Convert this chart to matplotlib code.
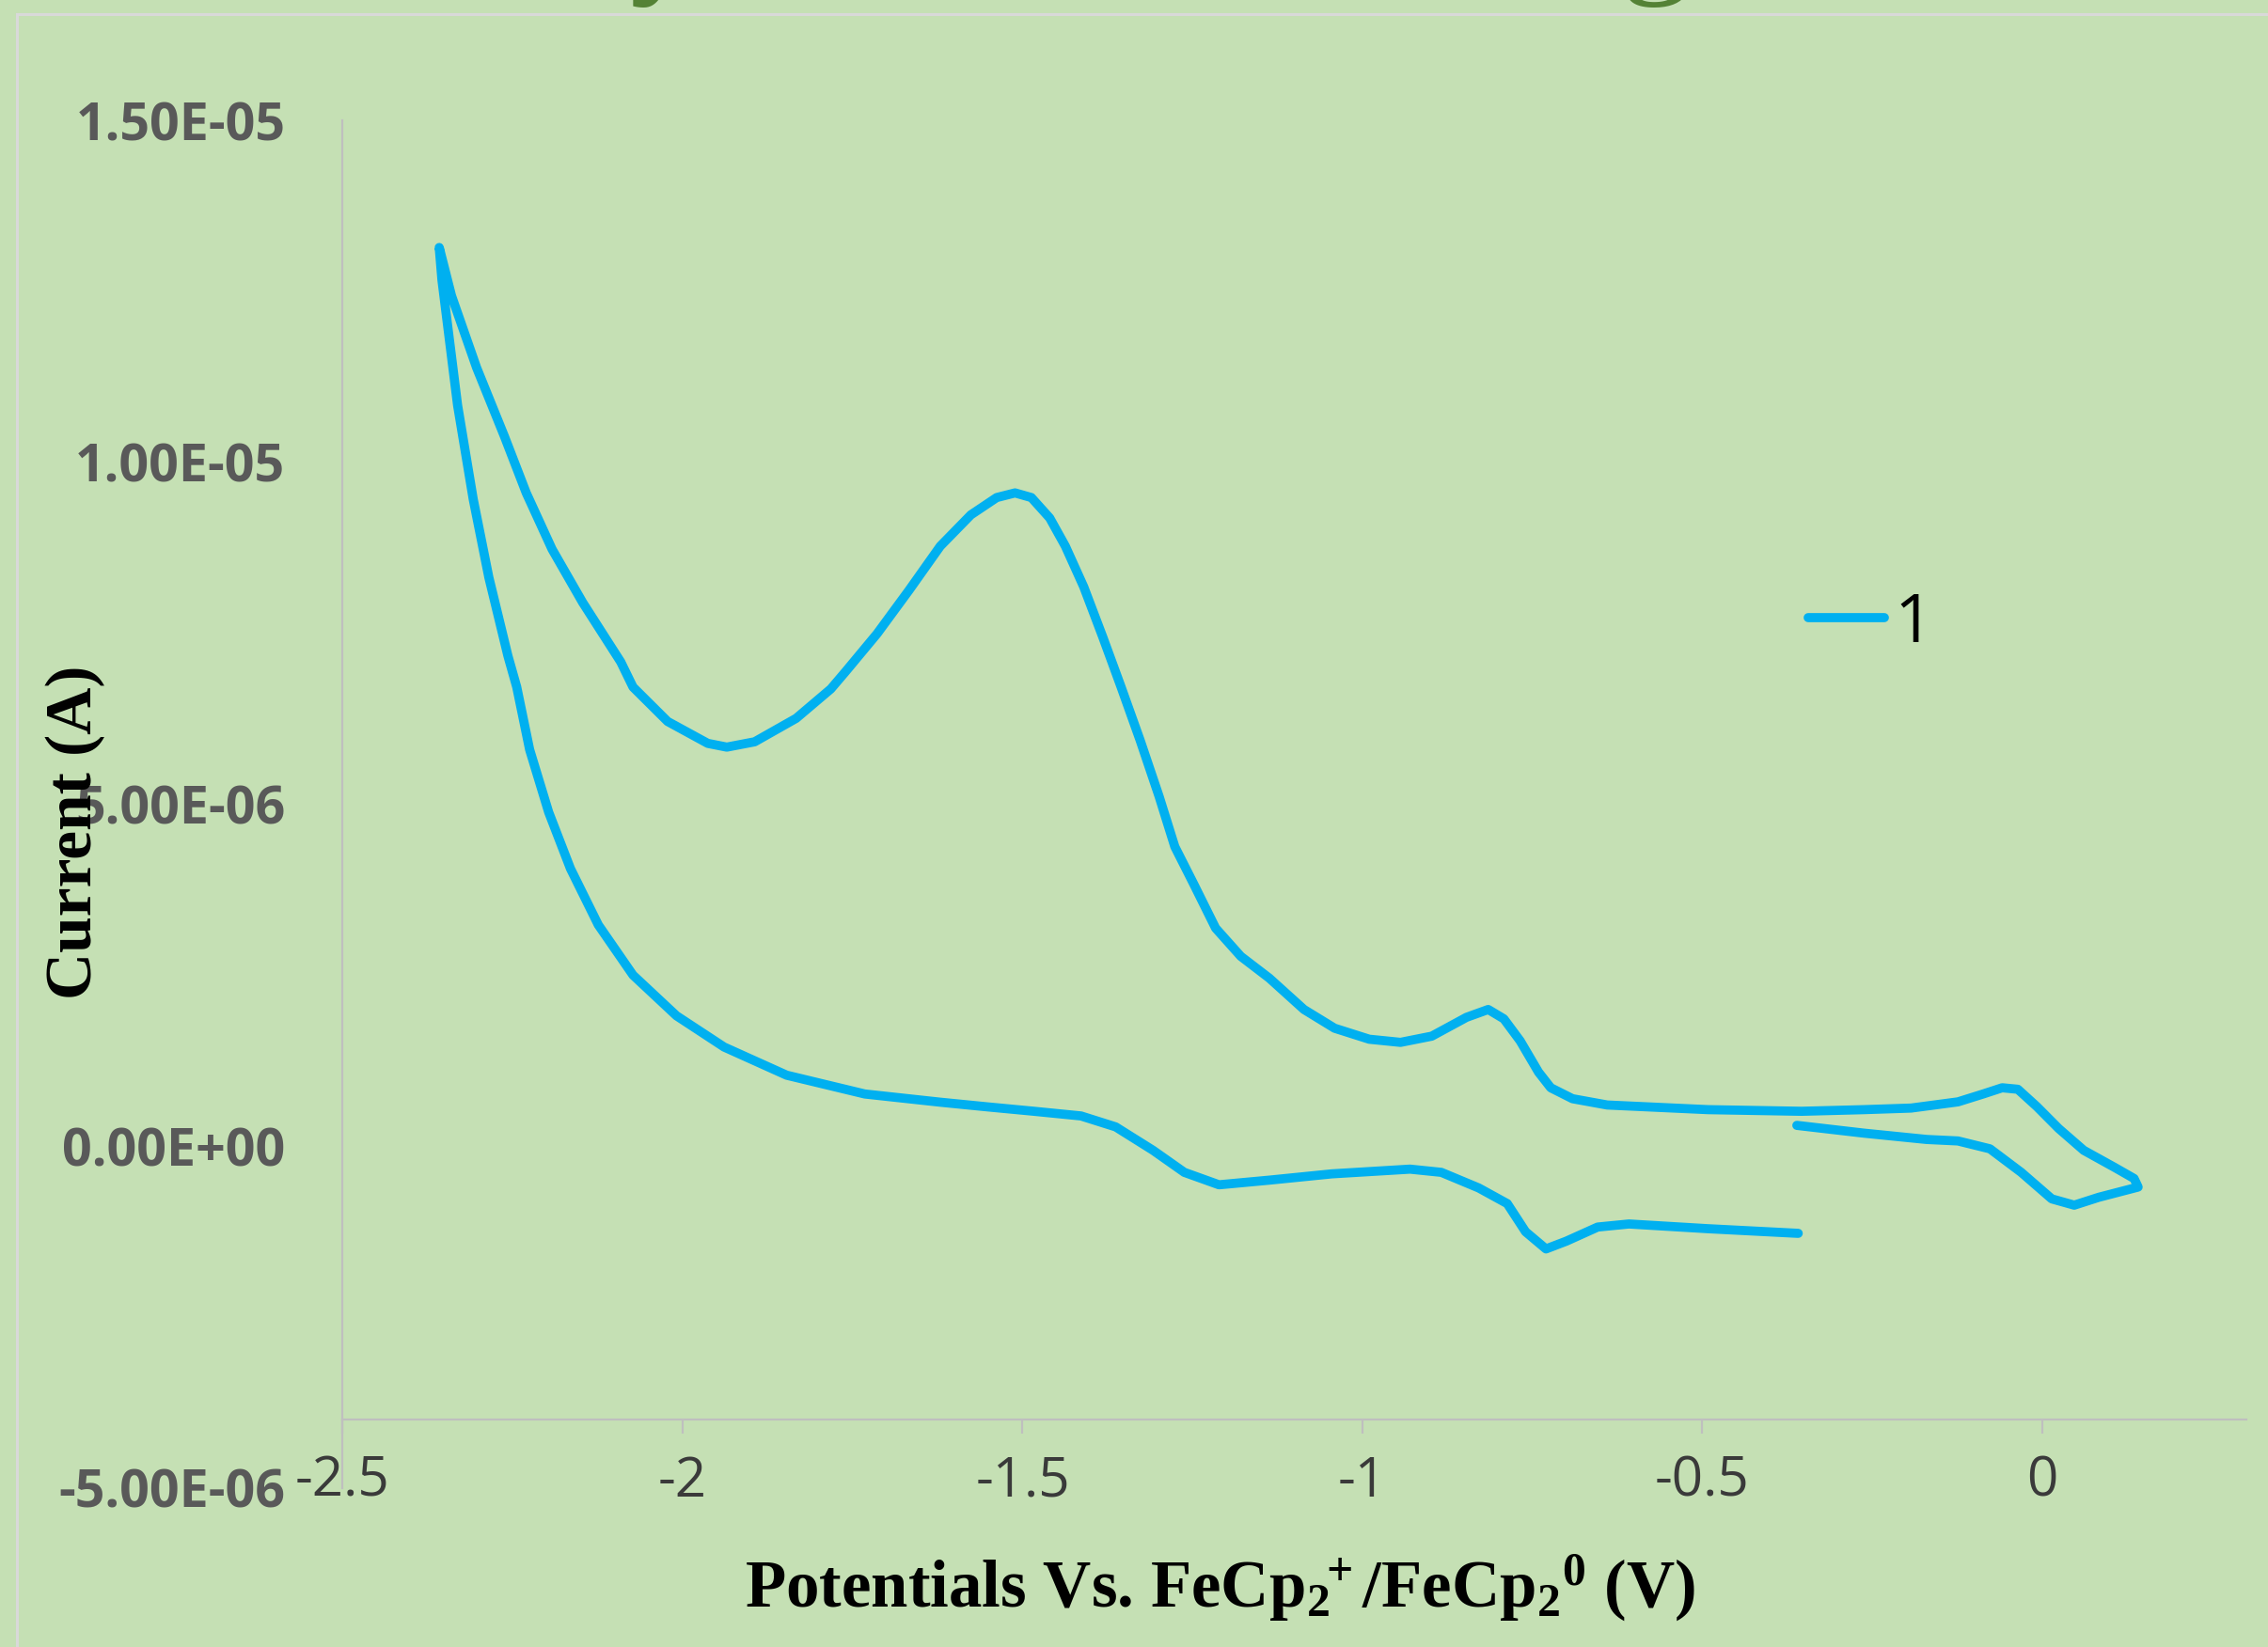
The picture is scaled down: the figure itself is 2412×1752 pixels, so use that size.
import numpy as np
import matplotlib.pyplot as plt
from matplotlib.lines import Line2D

# cyclic voltammogram
# potential in V vs FeCp2+/FeCp2 0, current in microamps
potential = [-0.361, -0.262, -0.170, -0.124, -0.077, -0.031, 0.014, 0.047, 0.083, 0.141,
             0.135, 0.107, 0.061, 0.024, -0.008, -0.036, -0.059, -0.087, -0.124, -0.193,
             -0.262, -0.354, -0.492, -0.640, -0.691, -0.723, -0.741, -0.768, -0.792, -0.815,
             -0.847, -0.898, -0.944, -0.990, -1.041, -1.086, -1.137, -1.179, -1.216, -1.248,
             -1.276, -1.299, -1.327, -1.355, -1.382, -1.410, -1.437, -1.460, -1.487, -1.511,
             -1.538, -1.576, -1.621, -1.667, -1.714, -1.760, -1.782, -1.833, -1.894, -1.935,
             -1.963, -2.022, -2.073, -2.091, -2.147, -2.192, -2.230, -2.262, -2.303, -2.340,
             -2.358, -2.354, -2.331, -2.308, -2.285, -2.257, -2.244, -2.225, -2.197, -2.165,
             -2.124, -2.073, -2.009, -1.939, -1.847, -1.732, -1.621, -1.552, -1.483, -1.414,
             -1.363, -1.308, -1.262, -1.211, -1.137, -1.045, -0.930, -0.884, -0.829, -0.787,
             -0.760, -0.730, -0.700, -0.654, -0.608, -0.492, -0.359]
current_uA = [0.302, 0.188, 0.096, 0.074, -0.041, -0.385, -0.773, -0.865, -0.750, -0.600,
              -0.475, -0.316, -0.063, 0.257, 0.577, 0.830, 0.852, 0.761, 0.646, 0.555,
              0.532, 0.508, 0.532, 0.600, 0.692, 0.852, 1.081, 1.538, 1.860, 1.997,
              1.882, 1.607, 1.516, 1.562, 1.723, 1.997, 2.455, 2.775, 3.187, 3.828,
              4.378, 5.110, 5.934, 6.713, 7.445, 8.179, 8.773, 9.185, 9.484, 9.552,
              9.484, 9.231, 8.773, 8.128, 7.492, 6.942, 6.685, 6.255, 5.912, 5.834,
              5.889, 6.209, 6.713, 7.080, 7.949, 8.728, 9.552, 10.376, 11.383, 12.437,
              13.141, 12.665, 10.834, 9.460, 8.316, 7.170, 6.713, 5.797, 4.882, 4.058,
              3.234, 2.500, 1.905, 1.448, 1.036, 0.761, 0.641, 0.573, 0.508, 0.440,
              0.280, -0.063, -0.385, -0.567, -0.499, -0.407, -0.338, -0.385, -0.613, -0.842,
              -1.254, -1.505, -1.391, -1.185, -1.140, -1.209, -1.277]

x_ticks = [-2.5, -2, -1.5, -1, -0.5, 0]
y_ticks = [-5e-6, 0, 5e-6, 1e-5, 1.5e-5]
series_name = '1'

bg = '#C5E0B4'
axis_grey = '#BFBFBF'

plt.rcParams['mathtext.fontset'] = 'custom'
plt.rcParams['mathtext.rm'] = 'Liberation Serif:bold'
plt.rcParams['mathtext.it'] = 'Liberation Serif:bold'
plt.rcParams['mathtext.bf'] = 'Liberation Serif:bold'

fig = plt.figure(figsize=(12.06, 8.76), dpi=200, facecolor=bg)
ax = fig.add_axes([0.1511, 0.0966, 0.8393, 0.8303])
ax.set_facecolor('none')

current = np.array(current_uA) * 1e-6
ax.plot(potential, current, color='#00B0F0', lw=3.5, solid_capstyle='round',
        solid_joinstyle='round', label=series_name)

ax.set_xlim(-2.5, 0.3)
ax.set_ylim(-5e-6, 1.5e-5)

ax.spines['top'].set_visible(False)
ax.spines['right'].set_visible(False)
ax.spines['left'].set_color(axis_grey)
ax.spines['bottom'].set_color(axis_grey)
ax.spines['left'].set_linewidth(0.8)
ax.spines['bottom'].set_linewidth(0.8)
# horizontal axis crosses a bit above the bottom of the value axis
ax.spines['bottom'].set_position(('data', -4e-6))

ax.set_xticks(x_ticks)
ax.set_xticklabels(['{:g}'.format(v) for v in x_ticks])
ax.set_yticks(y_ticks)
ax.set_yticklabels(['{:.2E}'.format(v) for v in y_ticks])

ax.tick_params(axis='x', direction='out', length=5.4, width=0.8, color=axis_grey,
               pad=8, labelsize=21, labelcolor='#3A3A3A')
ax.tick_params(axis='y', length=0, pad=22, labelsize=20, labelcolor='#595959')
for lbl in ax.get_xticklabels():
    lbl.set_fontfamily('Open Sans')
for lbl in ax.get_yticklabels():
    lbl.set_fontfamily('Open Sans')
    lbl.set_fontweight('bold')

ax.legend(loc='center left', bbox_to_anchor=(1923 / 2412, 1 - 664 / 1752),
          bbox_transform=fig.transFigure, frameon=False, handlelength=1.12,
          handletextpad=0.15, borderpad=0, borderaxespad=0,
          prop={'family': 'Open Sans', 'size': 26})

# axis titles
fig.text(1297 / 2412, 1 - 1710 / 1752,
         r'Potentials Vs. FeCp$_2{}^{\!\!+}$/FeCp$_2{}^0$ (V)',
         ha='center', va='baseline', fontsize=25.5, fontweight='bold',
         family='Liberation Serif', color='black')
fig.text(80 / 2412, 1 - 885 / 1752, 'Current (A)', rotation=90,
         ha='center', va='center', fontsize=25, fontweight='bold',
         family='Liberation Serif', color='black')

# slide frame and the cut off title above the chart
fig.add_artist(Line2D([18 / 2412, 1], [1 - 15 / 1752, 1 - 15 / 1752],
                      transform=fig.transFigure, color='#D9D9D9', lw=1.1))
fig.add_artist(Line2D([18 / 2412, 18 / 2412], [0, 1 - 15 / 1752],
                      transform=fig.transFigure, color='#D9D9D9', lw=1.1))
fig.text(707 / 2412, 1 + 24 / 1752, 'y', ha='center', va='baseline',
         fontsize=54, family='Liberation Serif', color='#548235')
fig.text(1761 / 2412, 1 + 24 / 1752, 'g', ha='center', va='baseline',
         fontsize=54, family='Liberation Serif', color='#548235')

fig.savefig('out.png', dpi=200, facecolor=bg)
